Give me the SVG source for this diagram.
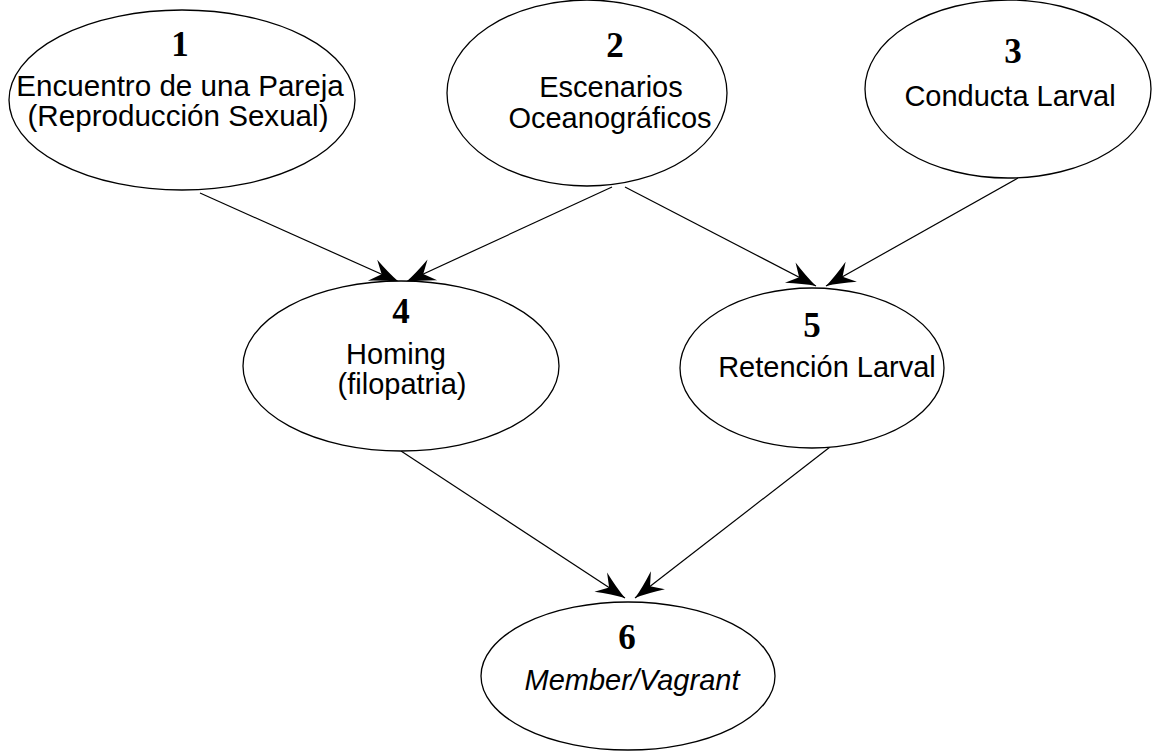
<svg xmlns="http://www.w3.org/2000/svg" width="1162" height="752" viewBox="0 0 1162 752">
  <style>
    .node ellipse { fill: #ffffff; stroke: #000000; stroke-width: 1.3; }
    .num { font-family: "Liberation Serif", "Times New Roman", serif; font-weight: bold; font-size: 35px; text-anchor: middle; fill: #000; }
    .lbl { font-family: "Liberation Sans", Arial, sans-serif; font-size: 29px; text-anchor: middle; fill: #000; }
    .wide { font-size: 29.6px; }
    .it { font-style: italic; }
    .edges line { stroke: #000000; stroke-width: 1.2; fill: none; marker-end: url(#barb); }
  </style>
  <defs>
    <!-- barbed arrowhead with swept-back points -->
    <marker id="barb" viewBox="-32 -13 34 26" refX="0" refY="0" markerWidth="34" markerHeight="26" markerUnits="userSpaceOnUse" orient="auto">
      <path d="M0,0 Q-13,-4 -29,-11.5 L-19,0 L-29,11.5 Q-13,4 0,0 Z" fill="#000"/>
    </marker>
  </defs>
  <rect width="1162" height="752" fill="#ffffff"/>

  <g class="edges" id="connectors">
    <line x1="200" y1="193" x2="399" y2="282"/>
    <line x1="612" y1="187" x2="406" y2="282"/>
    <line x1="625" y1="187" x2="816" y2="286"/>
    <line x1="1018" y1="178" x2="826" y2="286"/>
    <line x1="401" y1="451" x2="625" y2="598"/>
    <line x1="830" y1="447" x2="635" y2="598"/>
  </g>

  <g class="node" id="node1">
    <ellipse cx="182" cy="100" rx="173" ry="90"/>
    <text class="num" x="180" y="56">1</text>
    <text class="lbl wide" x="180" y="96">Encuentro de una Pareja</text>
    <text class="lbl wide" x="178" y="126">(Reproducción Sexual)</text>
  </g>

  <g class="node" id="node2">
    <ellipse cx="587" cy="93" rx="140" ry="93"/>
    <text class="num" x="615" y="57">2</text>
    <text class="lbl" x="611" y="97">Escenarios</text>
    <text class="lbl" x="610" y="128">Oceanográficos</text>
  </g>

  <g class="node" id="node3">
    <ellipse cx="1008" cy="89" rx="143" ry="89"/>
    <text class="num" x="1013" y="63">3</text>
    <text class="lbl" x="1010" y="106">Conducta Larval</text>
  </g>

  <g class="node" id="node4">
    <ellipse cx="401" cy="366" rx="158" ry="85"/>
    <text class="num" x="401" y="323">4</text>
    <text class="lbl" x="396" y="364">Homing</text>
    <text class="lbl" x="402" y="394">(filopatria)</text>
  </g>

  <g class="node" id="node5">
    <ellipse cx="812" cy="368" rx="132" ry="80"/>
    <text class="num" x="812" y="337">5</text>
    <text class="lbl" x="827" y="377">Retención Larval</text>
  </g>

  <g class="node" id="node6">
    <ellipse cx="628" cy="676" rx="147" ry="74"/>
    <text class="num" x="627" y="649">6</text>
    <text class="lbl it" x="632" y="690">Member/Vagrant</text>
  </g>
</svg>
